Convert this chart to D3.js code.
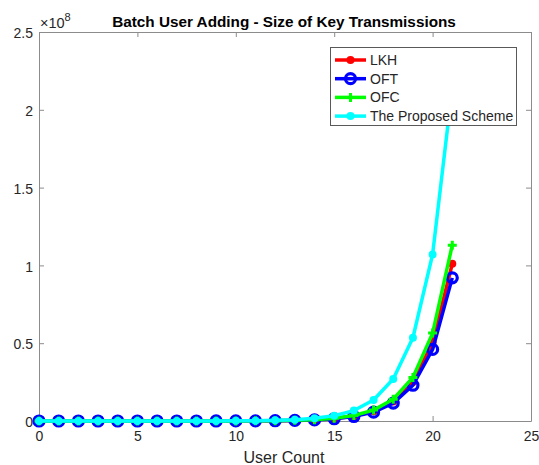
<!DOCTYPE html>
<html><head><meta charset="utf-8">
<script src="https://cdn.jsdelivr.net/npm/d3@7"></script>
<style>body{margin:0;background:#fff}svg{display:block}text{font-family:"Liberation Sans",Arial,sans-serif}</style>
</head><body>
<svg id="c" width="539" height="465"></svg>
<script>
const userCount = [0,1,2,3,4,5,6,7,8,9,10,11,12,13,14,15,16,17,18,19,20,21];
// values in units of 1e8
const lkh = [0.0000005,0.000001,0.000002,0.000004,0.000008,0.000015,0.00003,0.00006,0.00012,0.00025,0.0005,0.001,0.002,0.004,0.0079,0.016,0.031,0.063,0.125,0.25,0.505,1.01];
const oft = [0.0000004,0.0000009,0.0000018,0.0000035,0.000007,0.000014,0.000028,0.000056,0.00011,0.00022,0.00045,0.0009,0.0018,0.0036,0.0072,0.0144,0.029,0.057,0.115,0.23,0.46,0.92];
const ofc = [0.0000005,0.000001,0.000002,0.000004,0.000009,0.000017,0.000035,0.00007,0.00014,0.00028,0.00055,0.0011,0.0022,0.0044,0.0088,0.018,0.035,0.07,0.14,0.28,0.565,1.13];
const proposed = [0.000001,0.000002,0.000004,0.000008,0.000016,0.000033,0.000065,0.00013,0.00026,0.00052,0.001,0.0021,0.0042,0.0084,0.017,0.034,0.067,0.135,0.27,0.535,1.07,2.14];
const xTicks = [0,5,10,15,20,25];
const yTicks = [0,0.5,1,1.5,2,2.5];
const yTickLabels = ["0","0.5","1","1.5","2","2.5"];
const seriesNames = ["LKH","OFT","OFC","The Proposed Scheme"];
const seriesColors = ["#ff0000","#0000ff","#00ff00","#00ffff"];
const seriesMarkers = ["dot","circle","plus","dot"];
const titleText = "Batch User Adding - Size of Key Transmissions";
const xLabel = "User Count";

const svg = d3.select("#c");
const L=39,R=531,T=32,B=421;
const x = d3.scaleLinear().domain([0,25]).range([L,R]);
const y = d3.scaleLinear().domain([0,2.5]).range([B,T]);
const axisCol="#8c8c8c", textCol="#262626";

const defs = svg.append("defs");
defs.append("clipPath").attr("id","clip").append("rect").attr("x",L-8).attr("y",T).attr("width",R-L+16).attr("height",B-T+10);

// axes
const gx = svg.append("g").attr("transform",`translate(0,${B})`).call(d3.axisBottom(x).tickValues(xTicks).tickSizeInner(-5).tickSizeOuter(0).tickPadding(10));
const gy = svg.append("g").attr("transform",`translate(${L},0)`).call(d3.axisLeft(y).tickValues(yTicks).tickFormat((d,i)=>yTickLabels[i]).tickSizeInner(-5).tickSizeOuter(0).tickPadding(6));
const gxt = svg.append("g").attr("transform",`translate(0,${T})`).call(d3.axisTop(x).tickValues(xTicks).tickSizeInner(-5).tickSizeOuter(0).tickFormat(""));
const gyr = svg.append("g").attr("transform",`translate(${R},0)`).call(d3.axisRight(y).tickValues(yTicks).tickSizeInner(-5).tickSizeOuter(0).tickFormat(""));
[gx,gy,gxt,gyr].forEach(g=>{g.select(".domain").attr("stroke",axisCol);g.selectAll(".tick line").attr("stroke",axisCol);g.selectAll("text").attr("fill",textCol).style("font-size","14px").style("font-family",'"Liberation Sans",Arial,sans-serif');});
gy.selectAll("text").attr("dy","0.4em");

const seriesData = [lkh,oft,ofc,proposed];
const line = d3.line().x((d,i)=>x(userCount[i])).y(d=>y(d));
const plot = svg.append("g").attr("clip-path","url(#clip)");

function marker(g,type,color,cx,cy){
  if(type==="dot") g.append("circle").attr("cx",cx).attr("cy",cy).attr("r",4).attr("fill",color);
  else if(type==="circle") g.append("circle").attr("cx",cx).attr("cy",cy).attr("r",5).attr("fill","none").attr("stroke",color).attr("stroke-width",3.2);
  else { g.append("path").attr("d",`M${cx-4.5},${cy}H${cx+4.5}M${cx},${cy-4.5}V${cy+4.5}`).attr("stroke",color).attr("stroke-width",3).attr("fill","none"); }
}

seriesData.forEach((s,k)=>{
  const g = plot.append("g");
  g.append("path").datum(s).attr("d",line).attr("fill","none").attr("stroke",seriesColors[k]).attr("stroke-width",3.5).attr("stroke-linejoin","round");
  s.forEach((v,i)=>marker(g,seriesMarkers[k],seriesColors[k],x(userCount[i]),y(v)));
});

// title
svg.append("text").attr("x",284).attr("y",27).attr("text-anchor","middle").attr("fill","#000").style("font-weight","bold").style("font-size","15.3px").text(titleText);
// exponent
const ex = svg.append("text").attr("x",L+1).attr("y",28).attr("fill",textCol).style("font-size","14.5px");
ex.append("tspan").text("\u00d710");
ex.append("tspan").attr("dy",-7).style("font-size","11px").text("8");
// x label
svg.append("text").attr("x",284).attr("y",463).attr("text-anchor","middle").attr("fill",textCol).style("font-size","16px").text(xLabel);

// legend
const lg = svg.append("g");
lg.append("rect").attr("x",330.5).attr("y",47.5).attr("width",186).attr("height",78).attr("fill","#fff").attr("stroke","#595959").attr("stroke-width",1);
seriesNames.forEach((n,k)=>{
  const yy = 60 + k*18.7;
  lg.append("line").attr("x1",335).attr("x2",366).attr("y1",yy).attr("y2",yy).attr("stroke",seriesColors[k]).attr("stroke-width",3.5);
  marker(lg,seriesMarkers[k],seriesColors[k],350.5,yy);
  lg.append("text").attr("x",370).attr("y",yy+5).attr("fill",textCol).style("font-size","14px").text(n);
});
</script>
</body></html>
